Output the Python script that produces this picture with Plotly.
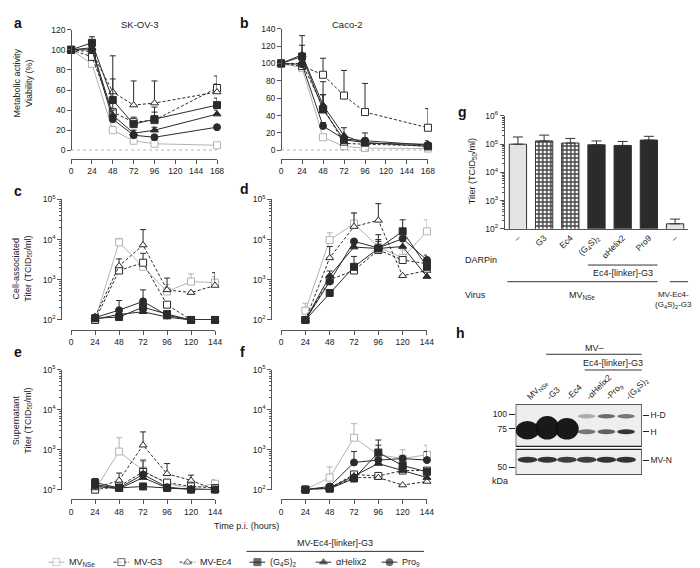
import plotly.graph_objects as go

W, H = 700, 568
FONT = "Liberation Sans, Arial, Helvetica, sans-serif"
DARK = "#2b2b2b"
LIGHT = "#b3b3b3"
AXIS = "#555555"


def fx(x):
    return x / W


def fy(y):
    return 1 - y / H


# ---------------- data ----------------
names = ["MV<sub>NSe</sub>", "MV-G3", "MV-Ec4", "(G<sub>4</sub>S)<sub>2</sub>", "αHelix2", "Pro<sub>9</sub>"]

via_time = [0, 24, 48, 72, 96, 168]
titer_time = [24, 48, 72, 96, 120, 144]

# a: SK-OV-3 viability (%)
skov3_via = [
    [100, 86, 20, 9.5, 6.5, 5],
    [100, 93, 38, 28, 30, 62],
    [100, 98, 58, 45, 47, 58],
    [100, 107, 50, 26, 31, 45],
    [100, 102, 35, 17, 20, 36],
    [100, 100, 31, 15, 13, 23],
]
skov3_via_err = [
    [0, 4, 4, 2, 2, 2],
    [0, 3, 10, 5, 8, 12],
    [0, 3, 36, 24, 22, 8],
    [0, 6, 21, 3, 12, 7],
    [0, 4, 5, 3, 3, 4],
    [0, 3, 4, 2, 2, 2],
]
# b: Caco-2 viability (%)
caco2_via = [
    [100, 95, 15, 4.5, 2.6, 2],
    [100, 97, 87, 63, 44, 26],
    [100, 100, 50, 8, 7, 5],
    [100, 108, 47, 12, 9, 4.5],
    [100, 110, 52, 17, 8, 7],
    [100, 99, 28, 13, 11, 6],
]
caco2_via_err = [
    [0, 3, 3, 2, 1, 1],
    [0, 5, 19, 29, 33, 22],
    [0, 3, 14, 4, 3, 3],
    [0, 24, 32, 5, 5, 3],
    [0, 11, 12, 9, 4, 4],
    [0, 3, 4, 3, 9, 3],
]
# c: SK-OV-3 cell-associated titer
skov3_cell = [
    [100, 8500, 2100, 510, 900, 850],
    [100, 1700, 2650, 240, 100, 100],
    [120, 2200, 7300, 560, 480, 720],
    [110, 118, 208, 140, 100, 100],
    [105, 137, 160, 118, 100, 100],
    [115, 175, 290, 130, 100, 100],
]
skov3_cell_err = [
    [0, 2200, 0, 250, 500, 350],
    [0, 500, 1900, 0, 0, 0],
    [0, 1100, 10400, 540, 0, 780],
    [0, 0, 40, 0, 0, 0],
    [0, 0, 0, 0, 0, 0],
    [0, 130, 270, 0, 0, 0],
]
# d: Caco-2 cell-associated titer
caco2_cell = [
    [170, 9700, 25000, 6500, 3500, 16000],
    [100, 1000, 1700, 5500, 3100, 2500],
    [100, 3500, 21000, 30000, 1260, 1700],
    [100, 470, 2100, 6000, 16000, 2100],
    [100, 1250, 6500, 6000, 6700, 1200],
    [100, 900, 9000, 6200, 10500, 3100],
]
caco2_cell_err = [
    [90, 5000, 20000, 0, 2000, 15000],
    [0, 300, 0, 1500, 0, 0],
    [0, 3200, 25000, 48000, 0, 0],
    [0, 0, 1700, 4000, 15000, 0],
    [0, 400, 0, 3000, 0, 0],
    [0, 0, 0, 7000, 0, 1000],
]
# e: SK-OV-3 supernatant titer
skov3_sup = [
    [100, 900, 300, 140, 110, 140],
    [100, 120, 280, 150, 120, 110],
    [110, 170, 1300, 250, 170, 100],
    [150, 110, 120, 110, 100, 100],
    [120, 105, 200, 110, 105, 100],
    [130, 110, 240, 115, 100, 100],
]
skov3_sup_err = [
    [0, 1100, 200, 0, 0, 40],
    [0, 0, 270, 0, 0, 0],
    [0, 90, 1500, 200, 60, 0],
    [40, 0, 0, 0, 0, 0],
    [0, 0, 0, 0, 0, 0],
    [0, 0, 100, 0, 0, 0],
]
# f: Caco-2 supernatant titer
caco2_sup = [
    [100, 200, 2000, 750, 600, 750],
    [100, 110, 240, 220, 300, 300],
    [100, 110, 200, 200, 130, 160],
    [100, 105, 190, 850, 400, 280],
    [100, 110, 220, 450, 300, 200],
    [100, 120, 480, 550, 600, 550],
]
caco2_sup_err = [
    [0, 170, 2500, 0, 400, 550],
    [0, 0, 0, 0, 0, 0],
    [0, 0, 0, 0, 0, 0],
    [0, 0, 0, 900, 0, 0],
    [0, 0, 0, 0, 0, 0],
    [0, 0, 420, 750, 0, 350],
]

# g: virus titers
darpin_labels = ["–", "G3", "Ec4", "(G<sub>4</sub>S)<sub>2</sub>", "αHelix2", "Pro9", "–"]
bar_titer = [1.0e5, 1.3e5, 1.1e5, 9.5e4, 9.0e4, 1.4e5, 150]
bar_titer_err = [8e4, 8e4, 5e4, 3.5e4, 3.5e4, 5e4, 70]

# h: western blot (relative band intensities per lane)
blot_lanes = ["MV<sub>NSe</sub>", "-G3", "-Ec4", "-αHelix2", "-Pro<sub>9</sub>", "-(G<sub>4</sub>S)<sub>2</sub>"]
band_hd = [0, 0, 0, 0.3, 0.6, 0.55]
band_h = [1, 1, 1, 0.55, 0.65, 0.85]
band_n = [0.85, 0.85, 0.8, 0.8, 0.85, 0.85]

# ---------------- styles ----------------
colors = [LIGHT, DARK, DARK, DARK, DARK, DARK]
symbols = ["square", "square", "triangle-up", "square", "triangle-up", "circle"]
fills = ["white", "white", "white", DARK, DARK, DARK]
dashes = ["solid", "3px,2px", "3px,2px", "solid", "solid", "solid"]

# panel geometry in pixels: x-domain, y-domain(top,bottom), y-axis x, x-axis y
panels = [
    (1, via_time, skov3_via, skov3_via_err, (62, 210), (16, 139), 62, 148, False, [0, 120], 20, 168),
    (2, via_time, caco2_via, caco2_via_err, (275, 424), (15, 139), 275, 148, False, [0, 140], 20, 168),
    (3, titer_time, skov3_cell, skov3_cell_err, (62, 208), (189, 312), 52, 322, True, [2, 5], None, 144),
    (4, titer_time, caco2_cell, caco2_cell_err, (275, 423), (189, 312), 265, 322, True, [2, 5], None, 144),
    (5, titer_time, skov3_sup, skov3_sup_err, (62, 208), (363, 485), 52, 495, True, [2, 5], None, 144),
    (6, titer_time, caco2_sup, caco2_sup_err, (275, 423), (363, 485), 265, 495, True, [2, 5], None, 144),
]

axis_common = dict(showline=True, linecolor=AXIS, linewidth=1, ticks="outside", ticklen=4,
                   tickcolor=AXIS, tickwidth=1, showgrid=False, zeroline=False,
                   tickfont=dict(size=8.5, color="#222"))
log_ticks = [100, 1000, 1e4, 1e5, 1e6]
log_text = ["10<sup>2</sup>", "10<sup>3</sup>", "10<sup>4</sup>", "10<sup>5</sup>", "10<sup>6</sup>"]
minor_vals = [m * 10 ** d for d in range(2, 6) for m in range(2, 10)]

fig = go.Figure()
layout = {}
shapes = []

for n, times, vals, errs, xd, yd, yax_x, xax_y, is_log, yr, ydt, xmax in panels:
    xa = "x" if n == 1 else f"x{n}"
    ya = "y" if n == 1 else f"y{n}"
    for i in range(6):
        arr = [e if e > 0 else None for e in errs[i]]
        fig.add_trace(go.Scatter(
            x=times, y=vals[i], xaxis=xa, yaxis=ya, name=names[i], showlegend=False,
            mode="lines+markers", cliponaxis=False,
            line=dict(color=colors[i], width=1, dash=dashes[i]),
            marker=dict(symbol=symbols[i], size=7, color=fills[i],
                        line=dict(color=colors[i], width=1)),
            error_y=dict(type="data", symmetric=False, array=arr, arrayminus=[None] * len(arr),
                         color=colors[i], thickness=1, width=3),
        ))
    xkey = "xaxis" if n == 1 else f"xaxis{n}"
    ykey = "yaxis" if n == 1 else f"yaxis{n}"
    layout[xkey] = dict(axis_common, domain=[fx(xd[0]), fx(xd[1])], anchor="free",
                        position=fy(xax_y), range=[0, xmax], tickvals=list(range(0, xmax + 1, 24)))
    ycfg = dict(axis_common, domain=[fy(yd[1]), fy(yd[0])], anchor="free", position=fx(yax_x), range=yr)
    if is_log:
        ycfg.update(type="log", tickvals=log_ticks[:4], ticktext=log_text[:4],
                    minor=dict(ticks="outside", ticklen=2, tickcolor=AXIS, tickvals=minor_vals[:24]))
    else:
        ycfg.update(dtick=ydt, tick0=0)
    layout[ykey] = ycfg
    shapes.append(dict(type="line", xref="paper", yref=ya, x0=fx(yax_x), x1=fx(xd[1]),
                       y0=yr[0], y1=yr[0], line=dict(color="#444", width=1, dash="dot")))

# ---- legend row (drawn on its own hidden axis) ----
legend_cx = [47, 113, 180, 251, 318, 385]
for i in range(6):
    cx = legend_cx[i]
    fig.add_trace(go.Scatter(
        x=[cx - 8, cx, cx + 8], y=[0.5, 0.5, 0.5], xaxis="x10", yaxis="y10", showlegend=False,
        mode="lines+markers", cliponaxis=False, hoverinfo="skip",
        line=dict(color=colors[i], width=1, dash=dashes[i]),
        marker=dict(symbol=symbols[i], size=[0, 7, 0], color=fills[i],
                    line=dict(color=colors[i], width=1)),
    ))
hidden = dict(visible=False, showgrid=False, zeroline=False)
layout["xaxis10"] = dict(hidden, domain=[0, 1], range=[0, W], anchor="y10")
layout["yaxis10"] = dict(hidden, domain=[fy(566), fy(552)], range=[0, 1], anchor="x10")

# ---- panel g: bars ----
bar_fill = ["#e3e3e3", "white", "white", DARK, DARK, DARK, "#e3e3e3"]
bar_pattern = ["", "+", "+", "", "", "", ""]
fig.add_trace(go.Bar(
    x=list(range(len(bar_titer))), y=bar_titer, xaxis="x7", yaxis="y7", showlegend=False,
    width=0.66,
    marker=dict(color=bar_fill, line=dict(color="#333", width=1),
                pattern=dict(shape=bar_pattern, fgcolor="#000", fgopacity=1, bgcolor="white",
                             size=4, solidity=0.6)),
    error_y=dict(type="data", symmetric=False, array=bar_titer_err, arrayminus=[0] * 7,
                 color="#333", thickness=1, width=5),
))
layout["xaxis7"] = dict(axis_common, domain=[fx(502), fx(688)], anchor="y7", range=[-0.5, 6.5],
                        tickvals=list(range(7)), ticktext=darpin_labels, tickangle=-45, ticks="",
                        tickfont=dict(size=8.5, color="#222"))
layout["yaxis7"] = dict(axis_common, domain=[fy(219), fy(104)], anchor="x7", type="log", range=[2, 6],
                        tickvals=log_ticks, ticktext=log_text,
                        minor=dict(ticks="outside", ticklen=2, tickcolor=AXIS, tickvals=minor_vals))

# ---- panel h: blot ----
lane_x = list(range(1, len(blot_lanes) + 1))
fig.add_trace(go.Scatter(x=lane_x, y=[None] * 6, xaxis="x8", yaxis="y8", showlegend=False,
                         mode="markers", hoverinfo="skip"))
fig.add_trace(go.Scatter(x=lane_x, y=[None] * 6, xaxis="x8", yaxis="y9", showlegend=False,
                         mode="markers", hoverinfo="skip"))
blot_axis = dict(showgrid=False, zeroline=False, showline=False, tickfont=dict(size=8.5, color="#222"))
layout["xaxis8"] = dict(blot_axis, domain=[fx(513), fx(641)], anchor="y8", side="top", range=[0.4, 6.8],
                        tickvals=lane_x, ticktext=blot_lanes, tickangle=-45, ticks="")
layout["yaxis8"] = dict(blot_axis, domain=[fy(470), fy(398)], anchor="x8", range=[0, 72],
                        tickvals=[8, 47, 62], ticktext=["50", "75", "100"], ticks="outside",
                        ticklen=6, tickcolor="#222")
layout["yaxis9"] = dict(blot_axis, domain=[fy(470), fy(398)], anchor="x8", overlaying="y8", side="right",
                        range=[0, 72], tickvals=[15, 44, 61], ticktext=["MV-N", "H", "H-D"],
                        ticks="outside", ticklen=6, tickcolor="#222")

# blot frames
for y0, y1 in [(29, 72), (0, 26)]:
    shapes.append(dict(type="rect", xref="x8", yref="y8", x0=0.4, x1=6.8, y0=y0, y1=y1,
                       fillcolor="#eeeeee", line=dict(color="#222", width=1.2), layer="below"))
blob_top = [55, 60, 58]
for i, lx in enumerate(lane_x):
    if band_h[i] >= 1:
        # saturated blob covering both H and H-D
        shapes.append(dict(type="circle", xref="x8", yref="y8", x0=lx - 0.6, x1=lx + 0.6,
                           y0=36, y1=blob_top[i], fillcolor="rgba(18,18,18,0.97)", line_width=0))
    else:
        shapes.append(dict(type="circle", xref="x8", yref="y8", x0=lx - 0.45, x1=lx + 0.45,
                           y0=41.5, y1=46.5, fillcolor=f"rgba(20,20,20,{band_h[i]})", line_width=0))
    if band_hd[i] > 0:
        shapes.append(dict(type="circle", xref="x8", yref="y8", x0=lx - 0.45, x1=lx + 0.45,
                           y0=57.5, y1=62, fillcolor=f"rgba(20,20,20,{band_hd[i]})", line_width=0))
    shapes.append(dict(type="circle", xref="x8", yref="y8", x0=lx - 0.5, x1=lx + 0.5,
                       y0=12.5, y1=18.5, fillcolor=f"rgba(18,18,18,{band_n[i]})", line_width=0))

# grouping lines
line_style = dict(color="#333", width=1)
shapes += [
    dict(type="line", xref="x7", yref="paper", x0=2.67, x1=5.33, y0=fy(256), y1=fy(256), line=line_style),
    dict(type="line", xref="x7", yref="paper", x0=-0.4, x1=5.33, y0=fy(273), y1=fy(273), line=line_style),
    dict(type="line", xref="x7", yref="paper", x0=5.8, x1=6.5, y0=fy(273), y1=fy(273), line=line_style),
    dict(type="line", xref="x8", yref="paper", x0=1.95, x1=6.8, y0=fy(347), y1=fy(347), line=line_style),
    dict(type="line", xref="x8", yref="paper", x0=3.9, x1=6.8, y0=fy(363), y1=fy(363), line=line_style),
    dict(type="line", xref="paper", yref="paper", x0=fx(240), x1=fx(420), y0=fy(548), y1=fy(548), line=line_style),
]


def ann(text, x, y, size=9, **kw):
    d = dict(text=text, x=fx(x), y=fy(y), xref="paper", yref="paper", showarrow=False,
             xanchor="center", yanchor="middle", font=dict(size=size, color="#222", family=FONT))
    d.update(kw)
    return d


def dann(text, x, y, xref, size=9, **kw):
    d = dict(text=text, x=x, y=fy(y), xref=xref, yref="paper", showarrow=False,
             xanchor="center", yanchor="middle", font=dict(size=size, color="#222", family=FONT))
    d.update(kw)
    return d


annotations = []
for letter, x, y in [("a", 8, 9), ("b", 238, 9), ("c", 8, 180), ("d", 238, 178),
                     ("e", 8, 345), ("f", 236, 345), ("g", 459, 100), ("h", 457, 325)]:
    annotations.append(ann(f"<b>{letter}</b>", x, y, font=dict(size=14, color="#111", family=FONT)))
annotations += [
    ann("SK-OV-3", 132, 11, size=9.5),
    ann("Caco-2", 342, 11, size=9.5),
    ann("Metabolic activity<br>Viability (%)", 13, 70, textangle=-90),
    ann("Cell-associated<br>Titer (TCID<sub>50</sub>/ml)", 13, 260, textangle=-90),
    ann("Supernatant<br>Titer (TCID<sub>50</sub>/ml)", 13, 415, textangle=-90),
    ann("Time p.i. (hours)", 240, 522),
    ann("MV-Ec4-[linker]-G3", 330, 539),
    ann("Titer (TCID<sub>50</sub>/ml)", 470, 160, textangle=-90),
    ann("DARPin", 460, 251, xanchor="left"),
    ann("Virus", 460, 287, xanchor="left"),
    ann("kDa", 497, 476),
    dann("Ec4-[linker]-G3", 4, 264, "x7"),
    dann("MV<sub>NSe</sub>", 2.45, 287, "x7"),
    dann("MV-Ec4-<br>(G<sub>4</sub>S)<sub>2</sub>-G3", 5.95, 292, "x7", size=8),
    dann("MV–", 4.4, 341, "x8"),
    dann("Ec4-[linker]-G3", 5.35, 356, "x8"),
]
for i in range(6):
    annotations.append(ann(names[i], legend_cx[i] + 11, 559, xanchor="left"))

fig.update_layout(
    **layout,
    width=W, height=H, margin=dict(l=0, r=0, t=0, b=0),
    paper_bgcolor="white", plot_bgcolor="white",
    font=dict(family=FONT, size=9, color="#222"),
    shapes=shapes, annotations=annotations,
    showlegend=False,
    bargap=0.3,
)

fig.write_html("out.html")
